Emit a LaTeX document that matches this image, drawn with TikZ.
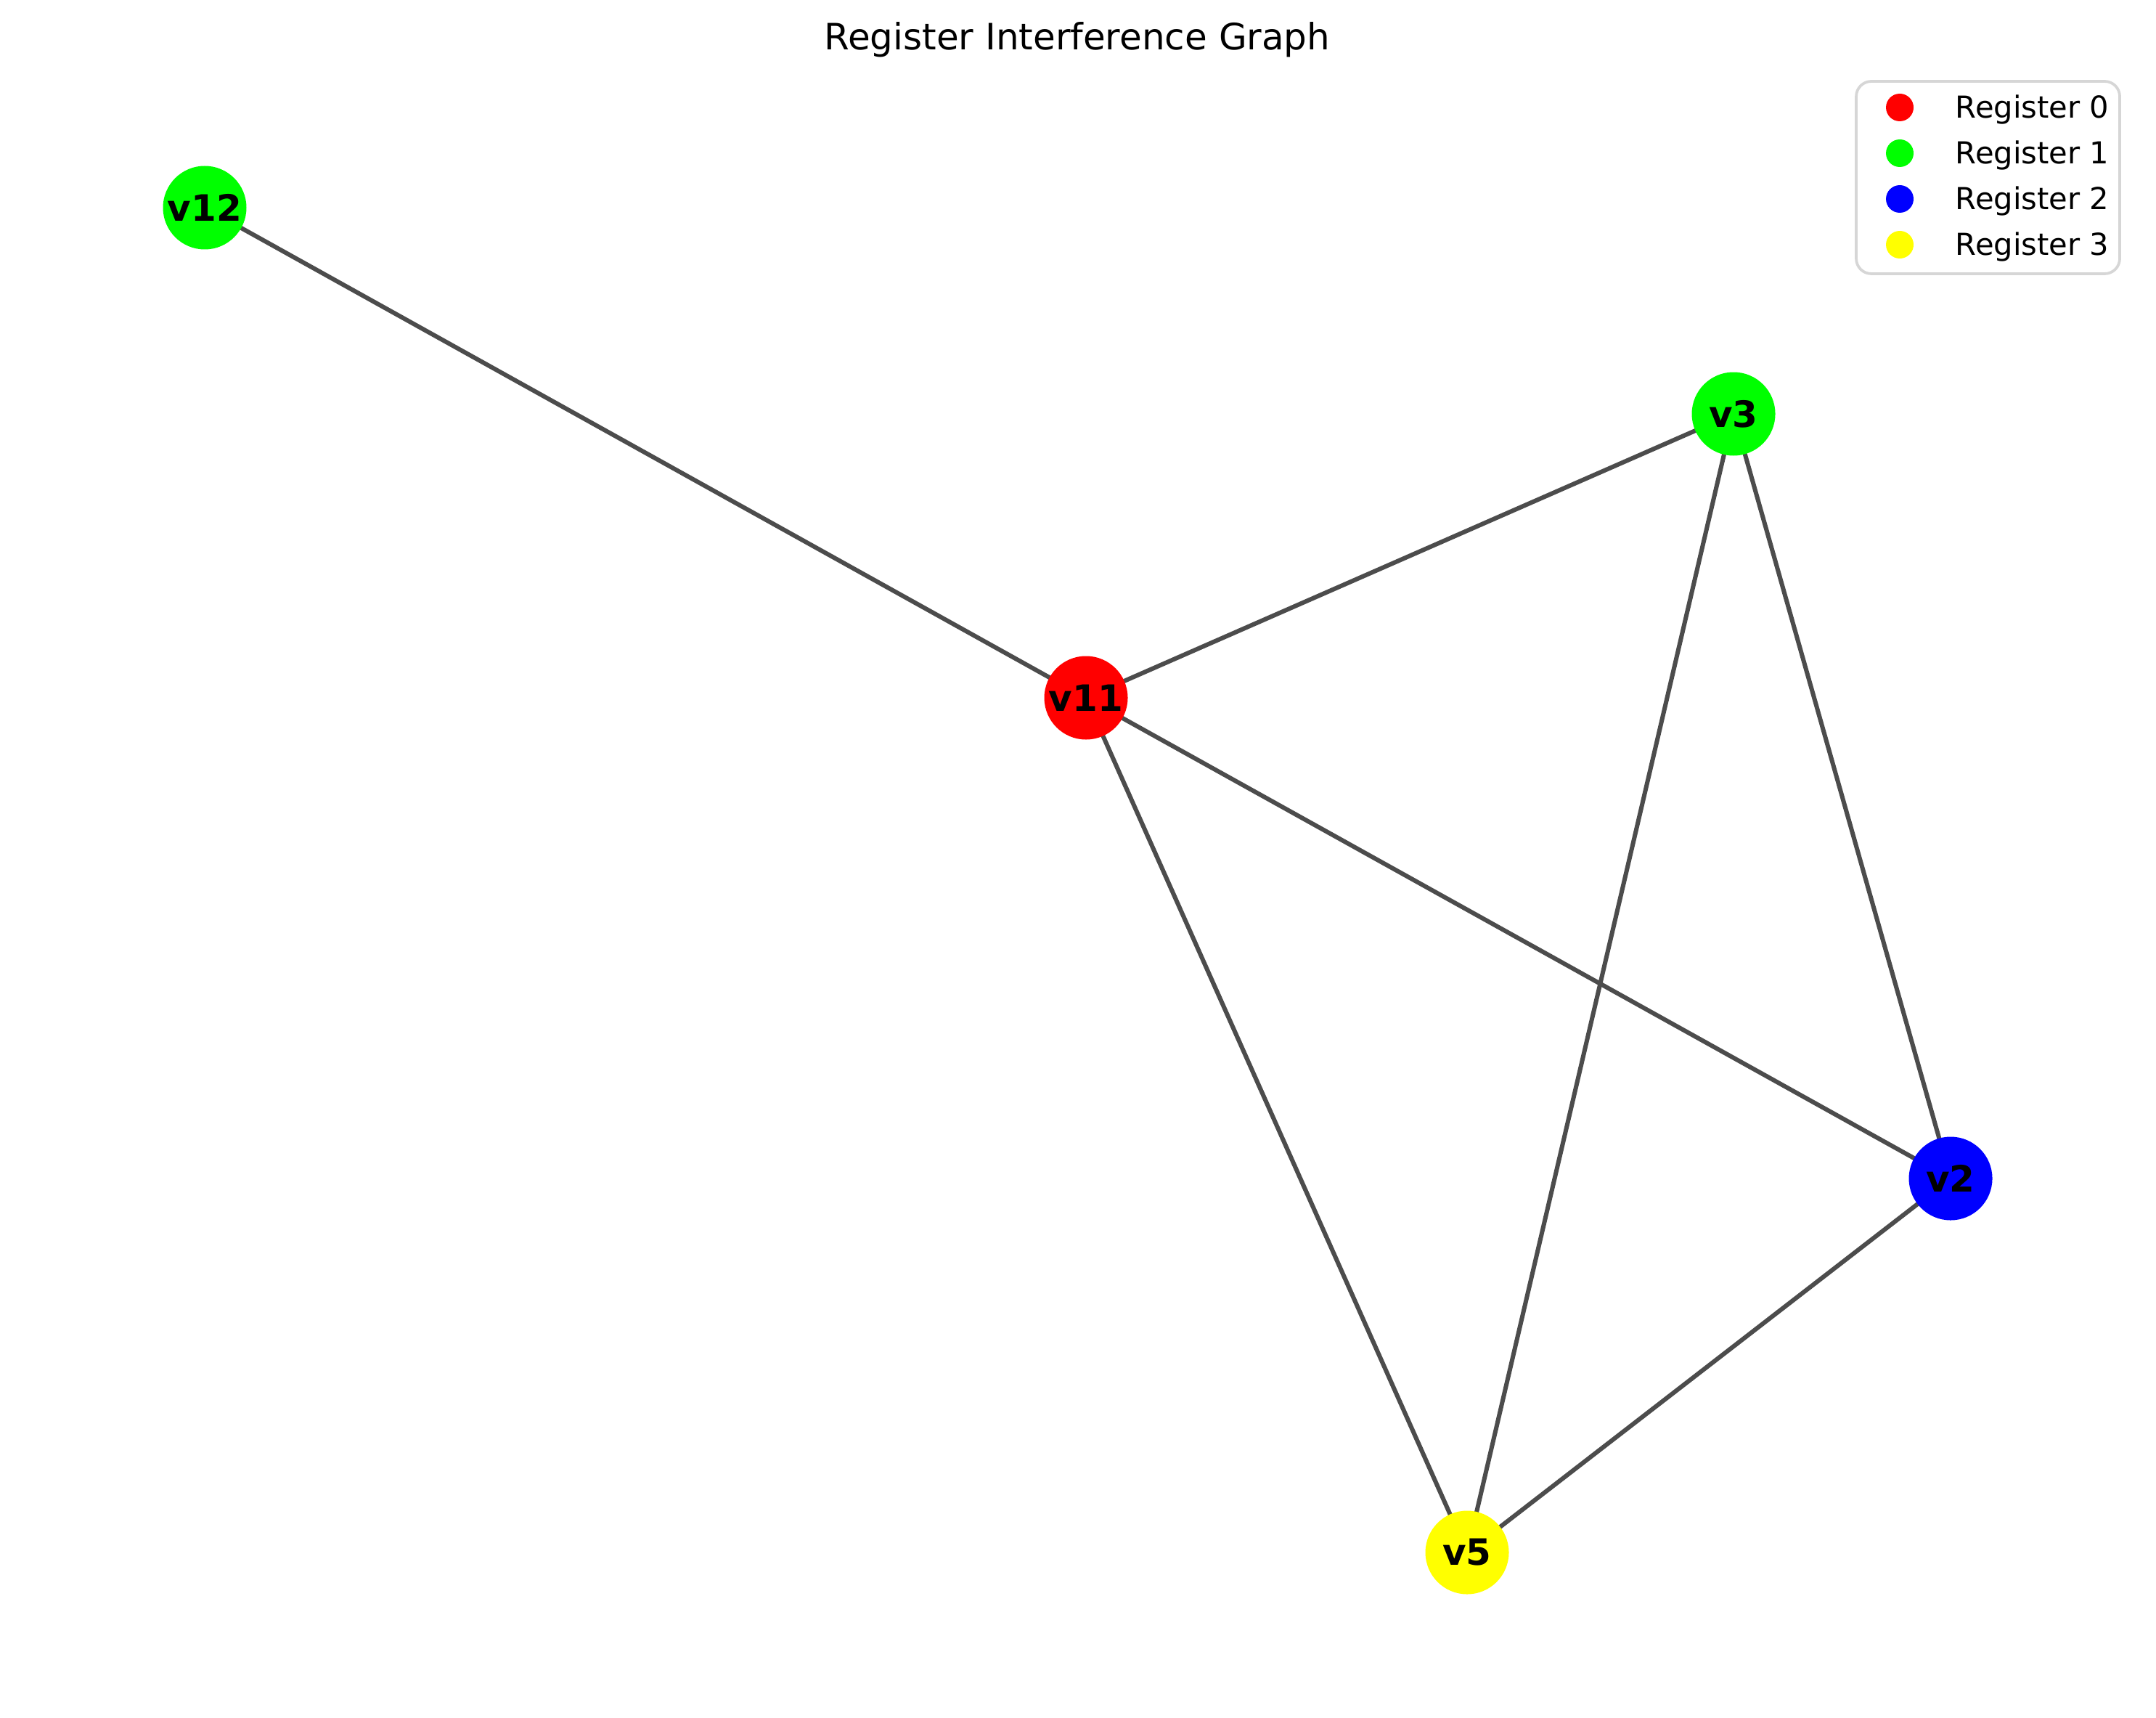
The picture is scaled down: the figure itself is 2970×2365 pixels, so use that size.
\documentclass[tikz,border=0pt]{standalone}
\usepackage{fontspec}
\setmainfont{DejaVu Sans}
\usetikzlibrary{backgrounds}
\begin{document}
\begin{tikzpicture}[x=0.24pt,y=-0.24pt,
  vertex/.style={circle,minimum size=115*0.24pt,inner sep=0pt,draw=none,
    font=\fontsize{12}{14}\selectfont\bfseries},
  edge/.style={draw=edgegrey,line width=1.45pt},
  legmark/.style={circle,minimum size=38*0.24pt,inner sep=0pt,draw=none},
  legtext/.style={anchor=base west,inner sep=0pt,font=\fontsize{10}{12}\selectfont}]
\definecolor{edgegrey}{HTML}{4C4C4C}
\definecolor{regzero}{HTML}{FF0000}
\definecolor{regone}{HTML}{00FF00}
\definecolor{regtwo}{HTML}{0000FF}
\definecolor{regthree}{HTML}{FFFF00}
\definecolor{frame}{HTML}{D6D6D6}
\useasboundingbox (0,0) rectangle (2970,2365);

% title
\node[anchor=base,inner sep=0pt,font=\fontsize{12}{14}\selectfont] (title) at (1484,69) {Register Interference Graph};

% vertices, coloured by register
\node[vertex,fill=regone]   (v12) at (282,286)   {v12};
\node[vertex,fill=regone]   (v3)  at (2388,570)  {v3};
\node[vertex,fill=regzero]  (v11) at (1496,961)  {v11};
\node[vertex,fill=regtwo]   (v2)  at (2687,1623) {v2};
\node[vertex,fill=regthree] (v5)  at (2021,2138) {v5};

% interference edges, kept behind the vertices
\begin{scope}[on background layer]
  \fill[white] (0,0) rectangle (2970,2365);
  \draw[edge] (v12.center) -- (v11.center);
  \draw[edge] (v11.center) -- (v3.center);
  \draw[edge] (v11.center) -- (v2.center);
  \draw[edge] (v11.center) -- (v5.center);
  \draw[edge] (v3.center) -- (v5.center);
  \draw[edge] (v3.center) -- (v2.center);
  \draw[edge] (v2.center) -- (v5.center);
\end{scope}

% legend
\draw[frame,fill=white,line width=0.9pt,rounded corners=5pt] (2557,112) rectangle (2920,377);
\node[legmark,fill=regzero]  (m0) at (2617,148) {};
\node[legmark,fill=regone]   (m1) at (2617,211) {};
\node[legmark,fill=regtwo]   (m2) at (2617,274) {};
\node[legmark,fill=regthree] (m3) at (2617,337) {};
\node[legtext] (l0) at (2693,163) {Register 0};
\node[legtext] (l1) at (2693,226) {Register 1};
\node[legtext] (l2) at (2693,289) {Register 2};
\node[legtext] (l3) at (2693,352) {Register 3};
\end{tikzpicture}
\end{document}
